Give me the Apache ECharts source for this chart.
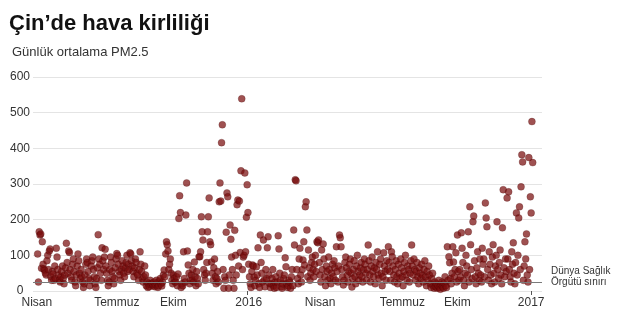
<!DOCTYPE html>
<html>
<head>
<meta charset="utf-8">
<script src="https://cdn.jsdelivr.net/npm/echarts@6/dist/echarts.min.js"></script>
<style>
html,body{margin:0;padding:0;background:#fff;}
#chart{width:624px;height:314px;}
</style>
</head>
<body>
<div id="chart"></div>
<script>
// Daily mean PM2.5 values, one array per month
const pmApr2015 = [104, 25, 166, 157, 160, 64, 138, 75, 62, 58, 50, 45, 85, 100, 60, 112, 118, 40, 30, 55, 48, 30, 70, 35, 120];
const pmMay2015 = [95, 60, 45, 30, 25, 40, 55, 70, 35, 20, 45, 65, 134, 80, 50, 112, 108, 60, 40, 30, 75, 90, 55, 25, 15, 45, 70, 104, 85, 50, 35];
const pmJun2015 = [60, 40, 25, 10, 20, 45, 75, 90, 80, 55, 35, 15, 30, 70, 85, 95, 60, 40, 20, 10, 35, 65, 158, 90, 75, 50, 30, 121, 85, 60];
const pmJul2015 = [95, 117, 70, 50, 30, 15, 25, 60, 95, 80, 55, 40, 20, 35, 65, 90, 105, 100, 75, 55, 45, 30, 60, 85, 70, 50, 40, 65, 80, 100, 55];
const pmAug2015 = [75, 60, 107, 104, 85, 70, 55, 40, 65, 90, 80, 50, 45, 30, 60, 110, 75, 55, 35, 25, 40, 70, 45, 15, 25, 10, 20, 12, 30, 18, 22];
const pmSep2015 = [20, 15, 25, 12, 18, 30, 22, 10, 15, 28, 35, 20, 14, 25, 45, 59, 40, 104, 138, 130, 112, 60, 75, 90, 50, 30, 20, 45, 35, 25];
const pmOct2015 = [25, 40, 15, 48, 203, 267, 220, 10, 20, 15, 110, 35, 25, 213, 303, 112, 73, 50, 20, 30, 45, 31, 60, 25, 81, 40, 15, 55, 35, 20, 96];
const pmNov2015 = [96, 110, 208, 166, 143, 60, 45, 30, 50, 80, 166, 208, 261, 138, 130, 81, 50, 30, 65, 90, 40, 20, 35, 55, 25, 250, 303, 252, 416, 466];
const pmDec2015 = [60, 8, 40, 30, 165, 275, 264, 8, 45, 185, 145, 95, 60, 30, 8, 170, 100, 45, 242, 255, 70, 252, 108, 337, 539, 60, 95, 100, 331, 110, 207];
const pmJan2016 = [298, 220, 75, 40, 20, 10, 55, 73, 70, 39, 15, 30, 68, 45, 121, 20, 10, 157, 80, 50, 25, 143, 31, 12, 60, 35, 121, 152, 45, 20, 10];
const pmFeb2016 = [20, 35, 60, 15, 8, 25, 40, 10, 25, 155, 118, 50, 30, 12, 8, 20, 35, 45, 93, 68, 20, 10, 15, 30, 25, 8, 40, 60, 15];
const pmMar2016 = [171, 129, 312, 309, 60, 35, 20, 90, 120, 45, 25, 60, 87, 138, 73, 236, 250, 171, 40, 115, 65, 30, 50, 80, 95, 60, 40, 75, 100, 55, 138];
const pmApr2016 = [135, 143, 80, 45, 25, 115, 60, 132, 90, 40, 15, 70, 55, 30, 95, 60, 35, 20, 50, 75, 40, 85, 65, 30, 124, 55, 25, 70, 157, 149];
const pmMay2016 = [124, 60, 40, 17, 30, 80, 95, 65, 45, 25, 55, 75, 90, 50, 11, 35, 60, 85, 40, 20, 70, 100, 55, 30, 45, 65, 80, 40, 25, 60, 90];
const pmJun2016 = [75, 50, 30, 60, 129, 85, 45, 25, 70, 95, 55, 40, 65, 20, 80, 60, 110, 45, 35, 75, 90, 50, 15, 40, 107, 70, 55, 30, 85, 60];
const pmJul2016 = [124, 80, 55, 30, 110, 96, 70, 45, 25, 60, 85, 40, 20, 75, 50, 35, 90, 65, 40, 15, 55, 80, 100, 45, 30, 70, 60, 25, 50, 85, 129];
const pmAug2016 = [70, 45, 90, 60, 30, 55, 80, 40, 20, 65, 50, 35, 75, 45, 25, 60, 85, 40, 15, 55, 30, 70, 45, 20, 10, 35, 50, 15, 8, 25, 12];
const pmSep2016 = [20, 8, 15, 30, 10, 5, 18, 25, 12, 8, 22, 40, 15, 10, 124, 30, 96, 79, 35, 20, 50, 124, 81, 40, 60, 107, 25, 157, 55, 30];
const pmOct2016 = [60, 40, 163, 120, 80, 30, 15, 50, 100, 70, 45, 166, 25, 236, 130, 60, 35, 194, 210, 85, 40, 20, 65, 110, 50, 30, 90, 45, 25, 120, 75];
const pmNov2016 = [90, 40, 247, 205, 180, 60, 30, 110, 75, 45, 20, 95, 130, 50, 25, 70, 100, 194, 60, 35, 80, 115, 45, 20, 177, 284, 65, 40, 90, 55];
const pmDec2016 = [261, 90, 278, 60, 40, 25, 110, 75, 135, 50, 20, 80, 219, 45, 100, 205, 236, 60, 292, 382, 362, 30, 70, 138, 90, 160, 45, 25, 374, 60, 264];
const pmJan2017 = [219, 475, 360];

// First day of each block above
const blockStarts = ['2015-04-06','2015-05-01','2015-06-01','2015-07-01','2015-08-01','2015-09-01','2015-10-01','2015-11-01','2015-12-01',
  '2016-01-01','2016-02-01','2016-03-01','2016-04-01','2016-05-01','2016-06-01','2016-07-01','2016-08-01','2016-09-01','2016-10-01','2016-11-01','2016-12-01','2017-01-01'];
const blocks = [pmApr2015, pmMay2015, pmJun2015, pmJul2015, pmAug2015, pmSep2015, pmOct2015, pmNov2015, pmDec2015,
  pmJan2016, pmFeb2016, pmMar2016, pmApr2016, pmMay2016, pmJun2016, pmJul2016, pmAug2016, pmSep2016, pmOct2016, pmNov2016, pmDec2016, pmJan2017];

// Axis labels
const tickLabels = ['Nisan','Temmuz','Ekim','2016','Nisan','Temmuz','Ekim','2017'];
const tickDates = ['2015-04-05','2015-07-17','2015-09-28','2016-01-03','2016-04-04','2016-07-19','2016-09-28','2017-01-01'];
const tickMarkDates = ['2016-01-01','2017-01-01'];
const yTicks = [0, 100, 200, 300, 400, 500, 600];
const whoLimit = 25;
const axisStart = '2015-03-31';
const axisEnd = '2017-01-15';

function dayNum(s) {
  const p = s.split('-').map(Number);
  return (Date.UTC(p[0], p[1] - 1, p[2]) - Date.UTC(2016, 0, 1)) / 86400000;
}

const points = [];
blocks.forEach((arr, b) => {
  const d0 = dayNum(blockStarts[b]);
  arr.forEach((v, i) => points.push([d0 + i, v]));
});

const labelVals = tickDates.map(dayNum);
const FONT = '"Liberation Sans", Arial, Helvetica, sans-serif';

const chart = echarts.init(document.getElementById('chart'), null, {renderer: 'canvas'});
chart.setOption({
  animation: false,
  backgroundColor: '#fff',
  title: [
    {text: 'Çin’de hava kirliliği', left: 9, top: 13, padding: 0,
     textStyle: {fontFamily: FONT, fontSize: 22, fontWeight: 'bold', color: '#111'}},
    {text: 'Günlük ortalama PM2.5', left: 12, top: 46, padding: 0,
     textStyle: {fontFamily: FONT, fontSize: 13, fontWeight: 'normal', color: '#333'}}
  ],
  grid: {left: 33, right: 82, top: 77, bottom: 23, containLabel: false},
  xAxis: {
    type: 'value',
    min: dayNum(axisStart), max: dayNum(axisEnd),
    splitLine: {show: false},
    axisLine: {show: false},
    axisTick: {show: true, customValues: tickMarkDates.map(dayNum), length: 4, inside: false,
               lineStyle: {color: '#555', width: 1}},
    axisLabel: {
      customValues: labelVals,
      margin: 6,
      fontFamily: FONT, fontSize: 12, color: '#333',
      formatter: function (v) { const i = labelVals.indexOf(v); return i >= 0 ? tickLabels[i] : ''; }
    }
  },
  yAxis: {
    type: 'value',
    min: yTicks[0], max: yTicks[yTicks.length - 1], interval: 100,
    axisLine: {show: false},
    axisTick: {show: false},
    axisLabel: {align: 'center', margin: 13, fontFamily: FONT, fontSize: 12, color: '#333'},
    splitLine: {lineStyle: {color: '#e4e4e4', width: 1}}
  },
  series: [{
    type: 'scatter',
    data: points,
    symbolSize: 7,
    itemStyle: {color: 'rgba(122,14,14,0.9)', borderColor: 'rgba(60,0,0,0.55)', borderWidth: 0.5},
    markLine: {
      silent: true,
      symbol: 'none',
      label: {show: false},
      lineStyle: {color: '#7a7a7a', width: 1, type: 'solid'},
      data: [{yAxis: whoLimit}]
    }
  }],
  graphic: [{
    type: 'text', left: 551, top: 266,
    style: {text: 'Dünya Sağlık\nÖrgütü sınırı', fontFamily: FONT, fontSize: 10, lineHeight: 11, fill: '#333'}
  }]
});
</script>
</body>
</html>
